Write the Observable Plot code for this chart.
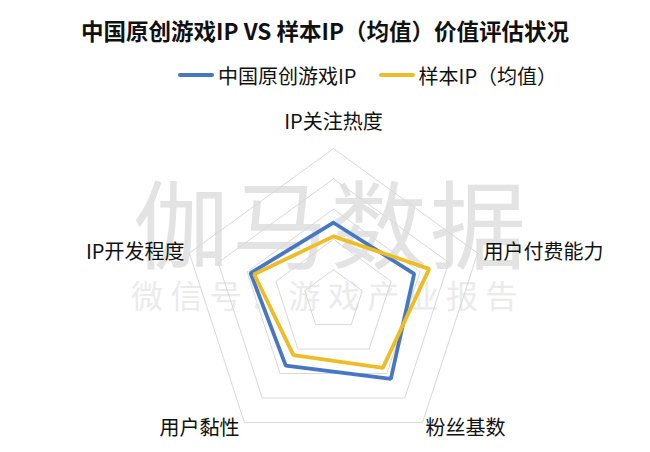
<!DOCTYPE html>
<html>
<head>
<meta charset="utf-8">
<script src="https://cdn.jsdelivr.net/npm/d3@7"></script>
<script src="https://cdn.jsdelivr.net/npm/@observablehq/plot@0.6"></script>
<style>
  html, body { margin: 0; padding: 0; background: #fff; }
  body { width: 650px; height: 452px; overflow: hidden; font-family: "Noto Sans CJK SC", "Noto Sans", sans-serif; }
  #title { height: 58px; line-height: 60px; text-align: center; font-size: 22.5px; font-weight: bold; color: #111; padding-left: 0px; white-space: nowrap; }
  #legend { height: 34px; display: flex; align-items: center; padding-left: 178px; font-size: 20px; color: #111; }
  .item { display: flex; align-items: center; margin-right: 22px; }
  .sw { width: 36px; height: 4px; border-radius: 2px; margin-right: 4px; }
  #wrap { position: relative; width: 650px; height: 360px; }
  .wm { position: absolute; white-space: nowrap; line-height: 1; }
  #wm1 { left: 133px; top: 80px; font-size: 96px; color: #e3e3e3; letter-spacing: 3px; }
  #wm2 { left: 131px; top: 186px; font-size: 32px; color: #ebebeb; letter-spacing: 7.4px; }
  #chart { position: absolute; left: 0; top: 0; }
</style>
</head>
<body>
<div id="title">中国原创游戏IP VS 样本IP（均值）价值评估状况</div>
<div id="legend"></div>
<div id="wrap">
  <div class="wm" id="wm1">伽马数据</div>
  <div class="wm" id="wm2">微信号：游戏产业报告</div>
  <div id="chart"></div>
</div>
<script>
// ---- data ----
const axes = ["IP关注热度", "用户付费能力", "粉丝基数", "用户黏性", "IP开发程度"];
const seriesNames = ["中国原创游戏IP", "样本IP（均值）"];
const originalIP = [2.55, 2.8, 3.22, 2.68, 2.88];
const sampleIP = [2.1, 3.32, 2.77, 2.25, 2.75];
const rings = [1, 2, 3, 4, 5];
const colors = ["#4677C5", "#EEBD26"];

// ---- helpers ----
const angle = i => Math.PI / 2 - i * 2 * Math.PI / axes.length;
const px = (i, r) => r * Math.cos(angle(i));
const py = (i, r) => r * Math.sin(angle(i));

const ringData = rings.flatMap(r =>
  [...axes, axes[0]].map((a, k) => ({ring: r, x: px(k % axes.length, r), y: py(k % axes.length, r)}))
);
const seriesData = [originalIP, sampleIP].flatMap((vals, s) =>
  [...vals, vals[0]].map((v, k) => ({series: seriesNames[s], x: px(k % axes.length, v), y: py(k % axes.length, v)}))
);
const labelR = 5;
const labels = axes.map((a, i) => ({name: a, x: px(i, labelR), y: py(i, labelR), i}));

// legend
const leg = document.getElementById("legend");
seriesNames.forEach((n, i) => {
  const d = document.createElement("div");
  d.className = "item";
  d.innerHTML = `<span class="sw" style="background:${colors[i]}"></span><span>${n}</span>`;
  leg.appendChild(d);
});

// ---- chart ----
const U = 30.3, W = 650, H = 360, cx = 333, cy = 207.5;
const font = "Noto Sans CJK SC";
const chart = Plot.plot({
  width: W, height: H, margin: 0,
  style: {background: "transparent", fontFamily: font},
  x: {domain: [-cx / U, (W - cx) / U], axis: null},
  y: {domain: [-(H - cy) / U, cy / U], axis: null},
  color: {domain: seriesNames, range: colors},
  marks: [
    Plot.line(ringData, {x: "x", y: "y", z: "ring", stroke: "#d9d9d9", strokeWidth: 1, strokeLinejoin: "miter"}),
    Plot.line(seriesData, {x: "x", y: "y", z: "series", stroke: "series", strokeWidth: 3.8, strokeLinejoin: "miter"}),
    Plot.text(labels.filter(d => d.i === 0), {x: "x", y: "y", text: "name", dy: -26, fontSize: 20, fill: "#111", textAnchor: "middle"}),
    Plot.text(labels.filter(d => d.i === 1), {x: "x", y: "y", text: "name", dx: 6, dy: -1, fontSize: 20, fill: "#111", textAnchor: "start"}),
    Plot.text(labels.filter(d => d.i === 2), {x: "x", y: "y", text: "name", dx: 3, dy: 6, fontSize: 20, fill: "#111", textAnchor: "start"}),
    Plot.text(labels.filter(d => d.i === 3), {x: "x", y: "y", text: "name", dx: -5, dy: 6, fontSize: 20, fill: "#111", textAnchor: "end"}),
    Plot.text(labels.filter(d => d.i === 4), {x: "x", y: "y", text: "name", dx: -5, dy: -1, fontSize: 20, fill: "#111", textAnchor: "end"})
  ]
});
document.getElementById("chart").appendChild(chart);
</script>
</body>
</html>
